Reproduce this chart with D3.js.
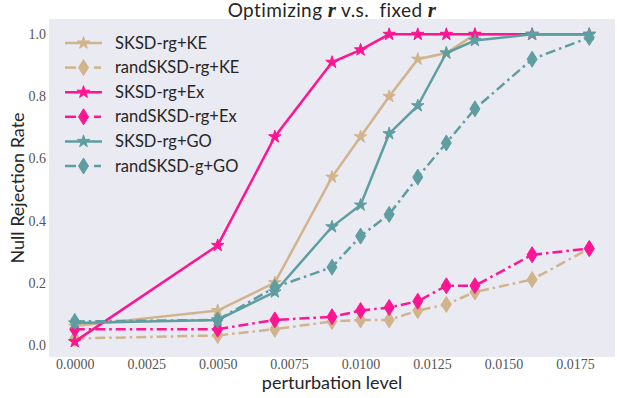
<!DOCTYPE html>
<html>
<head>
<meta charset="utf-8">
<script src="https://cdn.jsdelivr.net/npm/d3@7"></script>
<style>
body { margin: 0; background: #fff; }
svg text { fill: #262626; }
</style>
</head>
<body>
<svg id="chart" width="617" height="398"></svg>
<script>
var perturbation = [0, 0.005, 0.007, 0.009, 0.010, 0.011, 0.012, 0.013, 0.014, 0.016, 0.018];

var sksdKE     = [0.06, 0.11, 0.20, 0.54, 0.67, 0.80, 0.92, 0.94, 1.0, 1.0, 1.0];
var randSksdKE = [0.02, 0.03, 0.05, 0.075, 0.08, 0.08, 0.11, 0.13, 0.17, 0.21, 0.31];
var sksdEx     = [0.01, 0.32, 0.67, 0.91, 0.95, 1.0, 1.0, 1.0, 1.0, 1.0, 1.0];
var randSksdEx = [0.05, 0.05, 0.08, 0.09, 0.11, 0.12, 0.14, 0.19, 0.19, 0.29, 0.31];
var sksdGO     = [0.07, 0.08, 0.17, 0.38, 0.45, 0.68, 0.77, 0.94, 0.98, 1.0, 1.0];
var randSksdGO = [0.075, 0.08, 0.185, 0.25, 0.35, 0.42, 0.54, 0.65, 0.76, 0.92, 0.99];

var seriesNames = ["SKSD-rg+KE", "randSKSD-rg+KE", "SKSD-rg+Ex", "randSKSD-rg+Ex", "SKSD-rg+GO", "randSKSD-g+GO"];
var seriesColors = ["#D2B48C", "#D2B48C", "#FF1493", "#FF1493", "#5F9EA0", "#5F9EA0"];
var seriesMarkers = ["star", "diamond", "star", "diamond", "star", "diamond"];
var seriesValues = [sksdKE, randSksdKE, sksdEx, randSksdEx, sksdGO, randSksdGO];

var xTicks = [0, 0.0025, 0.005, 0.0075, 0.01, 0.0125, 0.015, 0.0175];
var yTicks = [0, 0.2, 0.4, 0.6, 0.8, 1.0];

var svg = d3.select("#chart");
var plotLeft = 49, plotRight = 615, plotTop = 19, plotBottom = 357;

var x = d3.scaleLinear().domain([-0.0009, 0.0189]).range([plotLeft, plotRight]);
var y = d3.scaleLinear().domain([-0.0395, 1.0495]).range([plotBottom, plotTop]);

svg.append("rect")
	.attr("x", plotLeft).attr("y", plotTop)
	.attr("width", plotRight - plotLeft).attr("height", plotBottom - plotTop)
	.attr("fill", "#EAEAF2");

var serif = "'Liberation Serif', 'DejaVu Serif', serif";
var sans = "Lato, 'Open Sans', 'DejaVu Sans', sans-serif";

// axes
var xAxis = svg.append("g")
	.attr("transform", "translate(0," + plotBottom + ")")
	.call(d3.axisBottom(x).tickValues(xTicks).tickSize(0).tickPadding(2).tickFormat(d3.format(".4f")));
var yAxis = svg.append("g")
	.attr("transform", "translate(" + plotLeft + ",0)")
	.call(d3.axisLeft(y).tickValues(yTicks).tickSize(0).tickPadding(3).tickFormat(d3.format(".1f")));

[xAxis, yAxis].forEach(function(a)
	{
		a.select(".domain").remove();
		a.selectAll("text")
			.style("font-family", "'Liberation Serif', serif")
			.style("font-size", "14px")
			.style("fill", "#555");
	}
);

svg.append("text")
	.attr("x", (plotLeft + plotRight) / 2).attr("y", 389)
	.attr("text-anchor", "middle")
	.style("font-family", sans).style("font-size", "18px")
	.text("perturbation level");

svg.append("text")
	.attr("transform", "translate(24," + ((plotTop + plotBottom) / 2) + ") rotate(-90)")
	.attr("text-anchor", "middle")
	.style("font-family", sans).style("font-size", "18px")
	.text("Null Rejection Rate");

var title = svg.append("text")
	.attr("x", (plotLeft + plotRight) / 2).attr("y", 16.5)
	.attr("text-anchor", "middle")
	.style("font-family", sans).style("font-size", "19px")
	.style("letter-spacing", "0.4px");
title.append("tspan").text("Optimizing ");
title.append("tspan").style("font-family", serif).style("font-style", "italic").style("font-weight", "bold").style("font-size", "21px").text("r");
title.append("tspan").text(" v.s.\u00a0 fixed ");
title.append("tspan").style("font-family", serif).style("font-style", "italic").style("font-weight", "bold").style("font-size", "21px").text("r");

// markers
var starPath = d3.symbol().type(d3.symbolStar).size(48)();
var diamondPath = "M0,-8L5,0L0,8L-5,0Z";

function markerPath(kind)
{
	return kind == "star" ? starPath : diamondPath;
}

var line = d3.line()
	.x(function(d, i) { return x(perturbation[i]); })
	.y(function(d) { return y(d); });

seriesValues.forEach(function(vals, k)
	{
		var g = svg.append("g");
		g.append("path")
			.attr("d", line(vals))
			.attr("fill", "none")
			.attr("stroke", seriesColors[k])
			.attr("stroke-width", 2.5)
			.attr("stroke-dasharray", seriesMarkers[k] == "diamond" ? "10,4,2.5,4" : null);
		g.selectAll(".m")
			.data(vals)
			.enter().append("path")
			.attr("transform", function(d, i) { return "translate(" + x(perturbation[i]) + "," + y(d) + ")"; })
			.attr("d", markerPath(seriesMarkers[k]))
			.attr("fill", seriesColors[k])
			.attr("stroke", seriesColors[k])
			.attr("stroke-width", 1);
	}
);

// legend
var legend = svg.append("g");
seriesNames.forEach(function(name, k)
	{
		var ly = 43 + k * 24.6;
		var row = legend.append("g");
		if (seriesMarkers[k] == "diamond")
		{
			row.append("line").attr("x1", 65).attr("x2", 76).attr("y1", ly).attr("y2", ly)
				.attr("stroke", seriesColors[k]).attr("stroke-width", 2.5);
			row.append("line").attr("x1", 94).attr("x2", 101).attr("y1", ly).attr("y2", ly)
				.attr("stroke", seriesColors[k]).attr("stroke-width", 2.5);
		}
		else
		{
			row.append("line").attr("x1", 65).attr("x2", 102).attr("y1", ly).attr("y2", ly)
				.attr("stroke", seriesColors[k]).attr("stroke-width", 2.5);
		}
		row.append("path")
			.attr("transform", "translate(83.5," + ly + ")")
			.attr("d", markerPath(seriesMarkers[k]))
			.attr("fill", seriesColors[k])
			.attr("stroke", seriesColors[k]);
		row.append("text")
			.attr("x", 115).attr("y", ly + 5.5)
			.style("font-family", sans).style("font-size", "16.5px")
			.text(name);
	}
);
</script>
</body>
</html>
